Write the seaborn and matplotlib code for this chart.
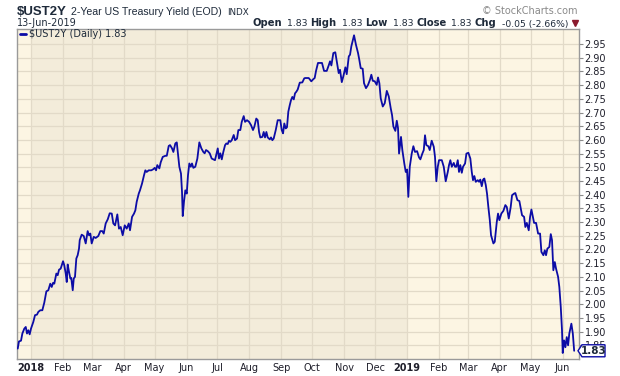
import numpy as np
import pandas as pd
import matplotlib
matplotlib.use("Agg")
import matplotlib.pyplot as plt
import matplotlib.dates as mdates
from matplotlib.lines import Line2D
from matplotlib.patches import Polygon
import seaborn as sns

# ---- data ----
# calendar-day offsets from 2018-01-01
days = [
    -12.9, -11.7, -9.7, -8.4, -6.5, -5.1, -3.9, -2.6, -1.3, 0,
    2.2, 3.9, 5.8, 7.1, 9.0, 11.0, 12.9, 14.9, 16.8, 18.7,
    20.1, 21.4, 22.6, 24.6, 25.9, 27.2, 28.8, 31.1, 32.3, 33.7,
    34.7, 35.6, 36.9, 38.2, 39.1, 40.5, 41.5, 42.7, 44.0, 45.3,
    46.6, 47.3, 49.2, 51.2, 53.1, 55.0, 56.3, 57.6, 58.9, 60.9,
    62.8, 65.3, 67.3, 69.2, 70.6, 72.5, 74.5, 76.4,
    78.4, 79.9, 81.6, 83.8, 85.4, 87.1, 89.0, 91.0, 92.9, 94.9,
    96.1, 98.1, 100.0, 101.3, 102.6, 104.6, 105.8, 107.8, 109.7, 111.0,
    112.3, 114.3, 116.8, 118.7, 120.1, 121.4, 122.6, 124.6, 125.9, 127.9,
    130.4, 131.8, 133.7, 135.0, 136.9, 138.2, 140.1, 141.5, 142.7, 144.0,
    145.6, 146.6, 147.3, 148.5, 149.8, 151.2, 152.4, 153.7, 155.1, 156.3,
    157.6, 159.5, 161.5, 163.4, 165.4, 167.3, 168.6, 169.9, 171.6, 173.5,
    175.4, 178.6, 181.3, 182.5, 183.8, 185.2, 186.7, 188.4, 189.6, 191.0,
    192.2, 193.5, 194.9, 196.8, 198.1, 200.0, 201.3, 203.2, 204.6, 206.5,
    207.8, 209.7, 211.7, 213.6, 215.5, 216.8, 218.7, 220.1, 221.4, 222.6,
    224.6, 225.9, 227.2, 228.5, 229.8, 231.8, 233.0, 234.3, 235.6, 237.6,
    239.5, 242.0, 243.4, 244.7, 245.9, 247.3, 248.5, 249.8, 251.2, 252.4,
    253.7, 255.1, 256.3, 257.6, 258.9, 260.9, 263.4, 265.3,
    266.3, 269.6, 272.1, 274.1, 275.4, 276.7, 278.6, 282.5, 284.5, 287.1,
    289.0, 290.3, 291.6, 293.5, 295.4, 296.8, 298.7, 300.0, 301.7, 303.2,
    305.2, 306.5, 308.5, 309.7, 311.0, 313.6, 315.5, 317.5, 318.7, 320.1,
    322.0, 323.3, 325.2, 327.2, 329.1, 330.4, 331.8, 333.7, 335.6, 336.9,
    338.2, 339.5, 341.5, 343.4, 345.4, 347.3, 349.2, 350.5, 351.8, 353.7,
    355.1, 356.3,
    357.3, 359.2, 360.5, 362.4, 363.8, 365.1, 366.3, 367.7, 369.6, 371.2,
    372.8, 374.8, 376.7, 378.0, 379.9, 381.3, 382.5, 383.8, 385.7, 387.1,
    389.0, 391.0, 392.2, 393.5, 394.9, 396.1, 398.8, 400.7, 402.6, 404.6,
    405.8, 407.1, 408.5, 410.4, 411.7, 412.9, 414.3, 415.5, 416.8, 418.2,
    419.4, 421.4, 422.7, 424.6, 426.5, 427.9, 429.1, 430.4, 431.8, 433.7,
    435.0, 436.2, 437.6, 438.9, 440.1, 441.5, 442.7, 444.0, 445.4, 446.6,
    448.9, 450.2, 452.2, 453.4, 454.7, 456.6, 458.6, 460.5, 461.9, 463.8,
    465.7, 467.0, 469.0, 470.2, 472.2, 474.1, 476.7, 478.7, 479.9, 481.3,
    483.2, 484.5, 485.8, 487.1, 488.4, 490.3, 492.3, 494.2, 495.5, 497.4,
    498.8, 500.0, 501.3, 503.2, 504.6, 505.8, 507.1, 508.5, 509.7, 511.7,
    512.9, 514.3, 515.5, 516.2, 517.5, 518.8, 520.1, 521.4, 522.6, 524.6,
    526.0, 527.3,
]
yields = [
    1.838, 1.864, 1.867, 1.893, 1.911, 1.917, 1.893, 1.905, 1.890, 1.911,
    1.935, 1.960, 1.962, 1.972, 1.978, 1.978, 2.006, 2.047, 2.051, 2.075,
    2.063, 2.078, 2.075, 2.112, 2.106, 2.126, 2.130, 2.157, 2.142, 2.112,
    2.081, 2.145, 2.118, 2.094, 2.096, 2.051, 2.094, 2.100, 2.167, 2.179,
    2.203, 2.234, 2.254, 2.249, 2.222, 2.267, 2.252, 2.258, 2.222, 2.246,
    2.242, 2.249, 2.267, 2.267, 2.258, 2.295, 2.310, 2.332,
    2.331, 2.295, 2.288, 2.328, 2.276, 2.282, 2.252, 2.288, 2.276, 2.295,
    2.270, 2.319, 2.331, 2.343, 2.374, 2.404, 2.416, 2.441, 2.471, 2.489,
    2.483, 2.489, 2.489, 2.493, 2.498, 2.489, 2.508, 2.496, 2.518, 2.538,
    2.542, 2.542, 2.578, 2.581, 2.569, 2.556, 2.587, 2.591, 2.550, 2.502,
    2.477, 2.410, 2.322, 2.374, 2.416, 2.404, 2.471, 2.514, 2.502, 2.514,
    2.498, 2.502, 2.532, 2.591, 2.569, 2.556, 2.551, 2.563, 2.559, 2.551,
    2.532, 2.526, 2.569, 2.532, 2.551, 2.529, 2.556, 2.581, 2.587, 2.585,
    2.597, 2.593, 2.599, 2.618, 2.599, 2.605, 2.636, 2.636, 2.666, 2.687,
    2.666, 2.672, 2.666, 2.654, 2.636, 2.648, 2.678, 2.672, 2.629, 2.609,
    2.611, 2.629, 2.609, 2.629, 2.609, 2.602, 2.609, 2.599, 2.605, 2.636,
    2.672, 2.672, 2.636, 2.624, 2.660, 2.642, 2.646, 2.703, 2.727, 2.745,
    2.757, 2.748, 2.770, 2.776, 2.784, 2.809, 2.810, 2.825,
    2.826, 2.826, 2.814, 2.822, 2.826, 2.852, 2.881, 2.881, 2.852, 2.852,
    2.872, 2.887, 2.872, 2.917, 2.920, 2.887, 2.844, 2.856, 2.811, 2.832,
    2.865, 2.840, 2.905, 2.911, 2.942, 2.982, 2.947, 2.917, 2.893, 2.862,
    2.860, 2.807, 2.789, 2.801, 2.820, 2.838, 2.816, 2.814, 2.801, 2.828,
    2.807, 2.752, 2.722, 2.734, 2.779, 2.759, 2.716, 2.691, 2.649, 2.633,
    2.670, 2.643,
    2.550, 2.611, 2.563, 2.514, 2.483, 2.492, 2.392, 2.502, 2.550, 2.577,
    2.556, 2.559, 2.536, 2.529, 2.550, 2.563, 2.617, 2.581, 2.577, 2.563,
    2.597, 2.575, 2.538, 2.449, 2.502, 2.526, 2.526, 2.502, 2.449, 2.483,
    2.508, 2.526, 2.502, 2.516, 2.502, 2.502, 2.526, 2.483, 2.508, 2.480,
    2.502, 2.514, 2.550, 2.553, 2.532, 2.483, 2.453, 2.468, 2.447, 2.453,
    2.447, 2.455, 2.431, 2.455, 2.459, 2.435, 2.404, 2.355, 2.307, 2.252,
    2.222, 2.228, 2.301, 2.331, 2.307, 2.331, 2.341, 2.362, 2.355, 2.313,
    2.355, 2.398, 2.404, 2.406, 2.380, 2.377, 2.325, 2.319, 2.282, 2.297,
    2.270, 2.319, 2.346, 2.321, 2.297, 2.297, 2.258, 2.258, 2.191, 2.179,
    2.197, 2.179, 2.203, 2.209, 2.256, 2.234, 2.124, 2.154, 2.130, 2.100,
    2.063, 1.990, 1.905, 1.822, 1.868, 1.843, 1.880, 1.850, 1.893, 1.929,
    1.893, 1.830,
]
assert len(days) == len(yields), (len(days), len(yields))

month_labels = ["2018", "Feb", "Mar", "Apr", "May", "Jun", "Jul", "Aug", "Sep",
                "Oct", "Nov", "Dec", "2019", "Feb", "Mar", "Apr", "May", "Jun"]
y_ticks = [1.85, 1.90, 1.95, 2.00, 2.05, 2.10, 2.15, 2.20, 2.25, 2.30, 2.35,
           2.40, 2.45, 2.50, 2.55, 2.60, 2.65, 2.70, 2.75, 2.80, 2.85, 2.90, 2.95]
quote_open, quote_high, quote_low, quote_close = 1.83, 1.83, 1.83, 1.83
chg, chg_pct = -0.05, -2.66

# ---- figure ----
sns.set_theme(style="white")
plt.rcParams["font.family"] = ["DejaVu Sans"]

W, H = 620, 376
fig = plt.figure(figsize=(W / 100, H / 100), dpi=100)
fig.patch.set_facecolor("white")
ax = fig.add_axes([17 / W, 17 / H, 562 / W, 330 / H])

base = pd.Timestamp("2018-01-01")
df = pd.DataFrame({"date": base + pd.to_timedelta(days, unit="D"), "yield": yields})

ax.set_facecolor("#fcf5e3")
ax.axvspan(pd.Timestamp("2018-01-01"), pd.Timestamp("2019-01-01"),
           color="#f3ecda", zorder=0, lw=0)

sns.lineplot(data=df, x="date", y="yield", ax=ax, color="#0c0ca6", lw=1.3,
             estimator=None, sort=False, legend=False, zorder=3)

ax.set_xlim(base - pd.Timedelta(days=13.6), base + pd.Timedelta(days=532))
ax.set_ylim(1.80, 3.005)

month_starts = pd.date_range("2018-01-01", "2019-06-01", freq="MS")
ax.set_xticks(mdates.date2num(month_starts))
ax.set_xticklabels(month_labels)
for lab in ax.get_xticklabels():
    if lab.get_text().isdigit():
        lab.set_fontweight("bold")
        lab.set_fontsize(8)
ax.tick_params(axis="x", length=0, pad=3, labelsize=7, labelcolor="#1e1e2a")

ax.yaxis.tick_right()
ax.set_yticks(y_ticks)
ax.set_yticklabels([f"{v:.2f}" for v in y_ticks])
ax.tick_params(axis="y", right=True, length=3, width=0.8, color="#8a8a8a",
               pad=1, labelsize=7, labelcolor="#1e1e2a")

ax.set_axisbelow(True)
ax.grid(True, color="#e2dac8", lw=0.9)
for s in ax.spines.values():
    s.set_color("#9a9a9a")
    s.set_linewidth(1.0)
ax.set_xlabel("")
ax.set_ylabel("")

# ---- header ----
def fy(py):
    return 1 - py / H

renderer = fig.canvas.get_renderer()

# left title chain
xl = 17
for txt, size, weight, gap, fam in [("$UST2Y", 9.5, "bold", 4, "Liberation Sans"),
                                    ("2-Year US Treasury Yield (EOD)", 7.6, "normal", 5, "Liberation Sans"),
                                    ("INDX", 6.3, "normal", 0, "DejaVu Sans")]:
    t = fig.text(xl / W, fy(15), txt, fontsize=size, fontweight=weight,
                 family=fam, color="#1e2a3a", va="baseline")
    bb = t.get_window_extent(renderer)
    xl = bb.x1 + gap

fig.text(17 / W, fy(26.5), "13-Jun-2019", fontsize=7, color="#1e2a3a", va="baseline")
fig.text(578 / W, fy(14), "\u00a9 StockCharts.com", fontsize=7, color="#8a8a8a",
         ha="right", va="baseline")

pieces = [("Open", True), (f"{quote_open:.2f}", False),
          ("High", True), (f"{quote_high:.2f}", False),
          ("Low", True), (f"{quote_low:.2f}", False),
          ("Close", True), (f"{quote_close:.2f}", False),
          ("Chg", True), (f"{chg:.2f} ({chg_pct:.2f}%)", False)]
xr = 568
for txt, bold in reversed(pieces):
    t = fig.text(xr / W, fy(26.5), txt, ha="right", va="baseline",
                 fontsize=7.2 if bold else 6.7, fontweight="bold" if bold else "normal",
                 color="#1e2a3a")
    bb = t.get_window_extent(renderer)
    xr = bb.x0 - (3 if bold else 5)
fig.add_artist(Line2D([575 / W], [fy(23)], marker="v", markersize=4.5,
                      color="#8b1a2e", transform=fig.transFigure))

# legend
fig.add_artist(Line2D([20 / W, 26 / W], [fy(34), fy(34)], color="#0c0ca6", lw=2,
                      transform=fig.transFigure))
fig.text(29 / W, fy(34), f"$UST2Y (Daily) {quote_close:.2f}", fontsize=7,
         color="#1e2a3a", va="center")

# last value tag (covers the 1.85 label, as in the reference)
last = yields[-1]
yp = ax.transData.transform((0, last))[1]
xa = ax.transAxes.transform((1, 0))[0]
poly = Polygon([(xa - 1, yp), (xa + 3, yp + 6), (xa + 26, yp + 6),
                (xa + 26, yp - 6), (xa + 3, yp - 6)], closed=True,
               facecolor="white", edgecolor="#0c0ca6", lw=1.0, transform=None,
               zorder=10)
fig.add_artist(poly)
fig.text((xa + 15) / W, yp / H, f"{last:.2f}", fontsize=7.5, fontweight="bold",
         color="#1e2a3a", ha="center", va="center", zorder=11)

fig.savefig("out.png", dpi=100)
